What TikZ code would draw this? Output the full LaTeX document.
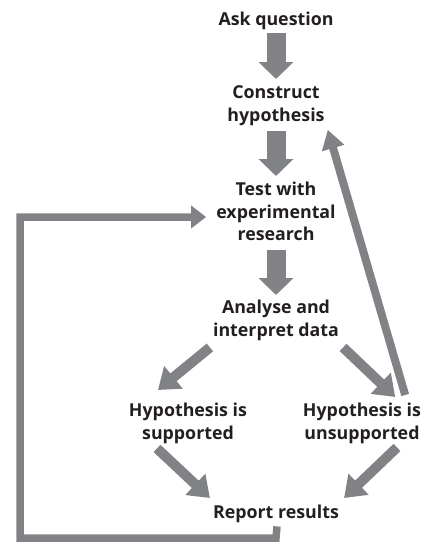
\documentclass[tikz,border=0pt]{standalone}
\usepackage{fontspec}
\setmainfont{Open Sans}
\usetikzlibrary{arrows.meta}
\definecolor{arrgray}{HTML}{808285}
\definecolor{txt}{HTML}{231F20}
\begin{document}
\begin{tikzpicture}[x=1pt,y=-1pt,
  lbl/.style={inner sep=0pt, align=center, text=txt, anchor=north,
    font=\fontsize{17.8}{22.5}\selectfont\bfseries, text depth=5pt,
    execute at begin node={\rule{0pt}{14pt}}},
  bigarrow/.style={draw=arrgray, line width=19pt, -{Triangle[length=17pt,width=34pt]}, arrgray},
  diagarrow/.style={draw=arrgray, line width=10pt, -{Triangle[length=20pt,width=28pt]}, arrgray},
  thinarrow/.style={draw=arrgray, line width=8pt, -{Triangle[length=19pt,width=22pt]}, arrgray},
  loopline/.style={draw=arrgray, line width=7.5pt, -{Triangle[length=15pt,width=22pt]}, arrgray}]
\useasboundingbox (0,0) rectangle (430,542);
\node[lbl] (ask) at (276,11) {Ask question};
\node[lbl] (con) at (276,85.5) {Construct\\hypothesis};
\node[lbl] (test) at (276,182) {Test with\\experimental\\research};
\node[lbl] (ana) at (276,300) {Analyse and\\interpret data};
\node[lbl] (sup) at (188,403) {Hypothesis is\\supported};
\node[lbl] (uns) at (362,403) {Hypothesis is\\unsupported};
\node[lbl] (rep) at (276,504) {Report results};
\coordinate (cbl) at (20,538);
\draw[bigarrow, shorten <=3pt, shorten >=6.5pt] (ask.south) -- (con.north);
\draw[bigarrow, shorten <=4.5pt, shorten >=6pt] (con.south) -- (test.north);
\draw[bigarrow, shorten <=4pt, shorten >=5pt] (test.south) -- (ana.north);
\draw[diagarrow] ([shift={(-3,6)}]ana.south west) -- ([shift={(-30,-13)}]sup.north);
\draw[diagarrow] ([shift={(4,6)}]ana.south east) -- ([shift={(-26,-6)}]uns.north east);
\draw[thinarrow] ([shift={(-16,-8)}]uns.north east) -- ([shift={(3,3.5)}]con.south east);
\draw[diagarrow] ([shift={(-31,4)}]sup.south) -- ([shift={(-3,-6)}]rep.north west);
\draw[diagarrow] ([shift={(35,3)}]uns.south) -- ([shift={(5,-6)}]rep.north east);
\coordinate (ctl) at (20,217);
\draw[loopline] ([shift={(1,3)}]rep.south) -- (rep.south |- cbl) -- (cbl) -- (ctl) -- ([xshift=-10pt]test.west |- ctl);
\end{tikzpicture}
\end{document}
